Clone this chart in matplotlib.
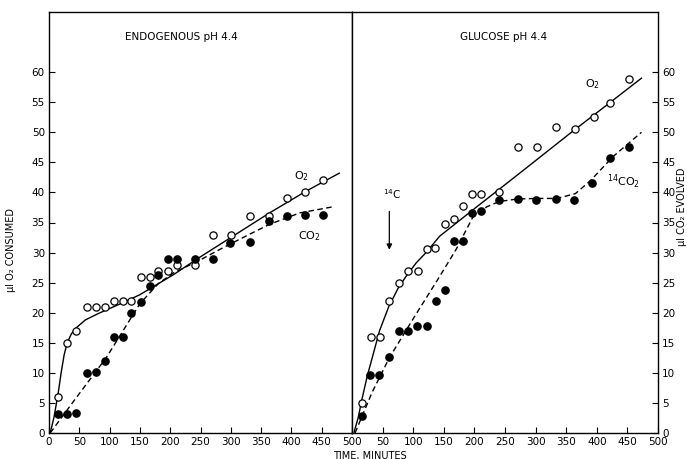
import numpy as np
import matplotlib
matplotlib.use('Agg')
from matplotlib import pyplot as plt

# ---- data (time in minutes, microlitres) ----
# left panel: endogenous pH 4.4
endo_t = [15, 30, 45, 63, 78, 92, 107, 122, 136, 151, 167, 180, 196, 211, 241, 271, 300, 331, 363, 393, 422, 452]
endo_o2 = [6, 15, 17, 21, 21, 21, 22, 22, 22, 26, 26, 27, 27, 28, 28, 33, 33, 36, 36, 39, 40, 42]
endo_co2_t = [15, 30, 45, 63, 78, 92, 107, 122, 136, 151, 167, 180, 196, 211, 241, 271, 299, 331, 363, 393, 423, 452]
endo_co2 = [3.2, 3.2, 3.3, 10, 10.2, 12, 16, 16, 20, 21.7, 24.4, 26.2, 28.9, 29, 28.9, 29, 31.6, 31.8, 35.3, 36, 36.2, 36.2]

# hand drawn curves (left)
endo_o2_curve_t = [2, 8, 15, 20, 25, 30, 37, 45, 60, 80, 100, 125, 150, 175, 205, 250, 300, 364, 424, 479]
endo_o2_curve = [0, 2.5, 6.5, 10, 13, 15, 16.5, 17.5, 18.8, 19.8, 20.7, 21.8, 23, 24.5, 26.3, 29.3, 32.5, 36.6, 40.2, 43.2]
endo_co2_curve_t = [2, 40, 95, 150, 180, 205, 250, 287, 330, 364, 414, 468]
endo_co2_curve = [0, 5.2, 12.6, 21.5, 24.8, 26.6, 28.8, 30.8, 33, 34.7, 36.6, 37.6]

# right panel: glucose pH 4.4
glu_t = [16, 31, 46, 61, 76, 92, 108, 122, 136, 152, 167, 182, 196, 210, 241, 272, 303, 333, 364, 395, 422, 453]
glu_o2 = [5, 16, 16, 22, 25, 27, 27, 30.6, 30.8, 34.8, 35.6, 37.7, 39.8, 39.8, 40, 47.6, 47.6, 50.8, 50.6, 52.6, 54.8, 58.8]
glu_co2_t = [16, 30, 44, 60, 76, 92, 107, 122, 137, 152, 167, 182, 196, 210, 241, 272, 301, 333, 363, 392, 422, 453]
glu_co2 = [2.9, 9.6, 9.7, 12.6, 16.9, 16.9, 17.8, 17.8, 21.9, 23.8, 31.9, 32, 36.6, 36.9, 38.8, 38.9, 38.8, 38.9, 38.7, 41.5, 45.8, 47.6]

glu_o2_curve_t = [3, 10, 16, 25, 33, 45, 60, 75, 88, 105, 121, 143, 200, 274, 361, 416, 473]
glu_o2_curve = [0, 2.5, 5.5, 9.5, 12.5, 17, 21, 24, 26, 28.3, 30, 32.7, 37.3, 43.2, 50.2, 54.5, 59]
glu_co2_curve_t = [5, 33, 61, 100, 140, 170, 197, 220, 241, 270, 300, 335, 365, 390, 427, 473]
glu_co2_curve = [0, 6.8, 12.5, 19, 25.5, 30.5, 35.8, 37.6, 38.5, 38.9, 39, 39, 39.8, 42, 46, 50]

yticks = [0, 5, 10, 15, 20, 25, 30, 35, 40, 45, 50, 55, 60]
xticks = [0, 50, 100, 150, 200, 250, 300, 350, 400, 450, 500]

plt.rcParams['font.family'] = ['DejaVu Sans']
W, H = 687, 459
fig = plt.figure(figsize=(W / 100, H / 100), dpi=100)
axL = fig.add_axes([49 / W, 26 / H, 303 / W, 421 / H])
axR = fig.add_axes([352 / W, 26 / H, 306 / W, 421 / H])

ms = 5.2
for ax in (axL, axR):
    ax.set_xlim(0, 500)
    ax.set_ylim(0, 70)
    ax.set_xticks(xticks)
    ax.set_yticks(yticks)
    ax.tick_params(direction='in', length=4, width=0.8, labelsize=7.5, pad=3)
    for s in ax.spines.values():
        s.set_linewidth(1.0)

axL.set_xticklabels([str(v) for v in xticks])
axR.set_xticklabels([''] + [str(v) for v in xticks[1:]])
axR.yaxis.tick_right()
axR.tick_params(axis='y', left=False, right=True)

# left panel
axL.plot(endo_o2_curve_t, endo_o2_curve, '-', color='k', lw=1.0)
axL.plot(endo_co2_curve_t, endo_co2_curve, '--', color='k', lw=1.0, dashes=(4, 2.5))
axL.plot(endo_t, endo_o2, 'o', ms=ms, mfc='white', mec='k', mew=0.9)
axL.plot(endo_co2_t, endo_co2, 'o', ms=ms, mfc='k', mec='k')
axL.text(219, 65.8, 'ENDOGENOUS pH 4.4', ha='center', va='center', fontsize=7.5)
axL.text(417, 42.7, 'O$_2$', ha='center', va='center', fontsize=8)
axL.text(430, 32.8, 'CO$_2$', ha='center', va='center', fontsize=8)

# right panel
axR.plot(glu_o2_curve_t, glu_o2_curve, '-', color='k', lw=1.0)
axR.plot(glu_co2_curve_t, glu_co2_curve, '--', color='k', lw=1.0, dashes=(4, 2.5))
axR.plot(glu_t, glu_o2, 'o', ms=ms, mfc='white', mec='k', mew=0.9)
axR.plot(glu_co2_t, glu_co2, 'o', ms=ms, mfc='k', mec='k')
axR.text(247, 65.8, 'GLUCOSE pH 4.4', ha='center', va='center', fontsize=7.5)
axR.text(393, 58, 'O$_2$', ha='center', va='center', fontsize=8)
axR.text(443, 41.8, '$^{14}$CO$_2$', ha='center', va='center', fontsize=8)
axR.text(66, 39.7, '$^{14}$C', ha='center', va='center', fontsize=7.5)
axR.annotate('', xy=(61, 30), xytext=(61, 37.3),
             arrowprops=dict(arrowstyle='-|>', color='k', lw=0.9, mutation_scale=8))

# axis titles
fig.text(11 / W, 1 - 250 / H, 'μl O₂ CONSUMED', rotation=90, ha='center', va='center', fontsize=7)
fig.text(682 / W, 1 - 207 / H, 'μl CO₂ EVOLVED', rotation=90, ha='center', va='center', fontsize=7)
fig.text(370 / W, 1 - 451 / H, 'TIME, MINUTES', ha='center', va='top', fontsize=7)

fig.savefig('out.png', dpi=100)
